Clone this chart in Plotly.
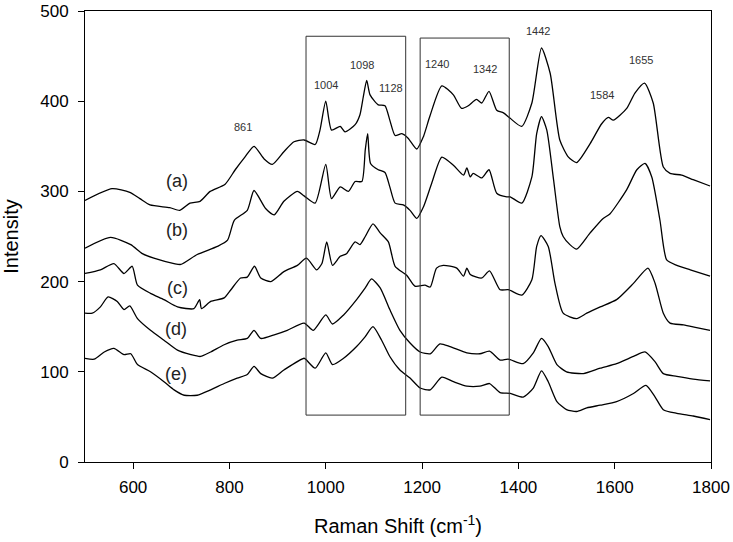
import plotly.graph_objects as go

# ---- data ----
xa = [500, 556, 593, 614, 635, 676, 697, 718, 739, 760, 791, 812, 832, 851, 872, 889, 913, 934, 955,
      978, 988, 1000, 1012, 1030, 1040, 1061, 1071, 1078, 1085, 1092, 1109, 1123, 1133, 1144, 1158, 1171,
      1189, 1203, 1216, 1241, 1265, 1282, 1296, 1313, 1324, 1339, 1355, 1369, 1383, 1407, 1428, 1448,
      1466, 1486, 1504, 1521, 1549, 1573, 1587, 1597, 1625, 1642, 1662, 1680, 1701, 1715, 1739, 1763, 1798]
ya = [290, 303, 299, 292, 285, 282, 279, 287, 289, 300, 308, 324, 338, 350, 336, 330, 344, 355, 357,
      352, 368, 400, 368, 372, 366, 374, 385, 405, 423, 407, 396, 395, 379, 362, 364, 359,
      347, 361, 383, 417, 407, 392, 395, 402, 398, 411, 390, 387, 381, 372, 398, 459,
      431, 357, 338, 332, 353, 375, 382, 379, 392, 409, 420, 398, 327, 320, 318, 313, 306]

xb = [500, 553, 595, 619, 643, 685, 699, 733, 775, 796, 810, 837, 851, 875, 893, 913, 941, 955,
      978, 1000, 1012, 1030, 1047, 1061, 1075, 1082, 1087, 1093, 1109, 1123, 1133, 1144, 1161, 1175,
      1189, 1203, 1220, 1241, 1265, 1286, 1293, 1300, 1306, 1324, 1339, 1355, 1376, 1383, 1407, 1428,
      1438, 1448, 1459, 1473, 1486, 1493, 1507, 1521, 1549, 1576, 1590, 1625, 1646, 1663, 1677, 1694,
      1708, 1729, 1757, 1798]
yb = [237, 249, 241, 231, 226, 220, 219, 230, 239, 246, 268, 279, 301, 281, 274, 289, 300, 295,
      287, 330, 292, 305, 300, 311, 311, 346, 364, 331, 324, 321, 305, 287, 285, 279,
      270, 283, 309, 338, 329, 318, 326, 316, 320, 315, 324, 298, 294, 294, 287, 316,
      364, 383, 368, 313, 261, 250, 241, 236, 254, 270, 275, 302, 324, 331, 316, 268,
      224, 218, 213, 206]

xc = [500, 532, 560, 581, 598, 609, 636, 664, 692, 726, 738, 742, 761, 789, 803, 823, 837, 852, 865,
      886, 913, 941, 960, 981, 992, 1002, 1014, 1030, 1043, 1061, 1071, 1082, 1098, 1113, 1130, 1144,
      1168, 1185, 1206, 1217, 1230, 1244, 1272, 1286, 1293, 1300, 1324, 1340, 1362, 1379, 1407, 1428,
      1438, 1447, 1462, 1476, 1493, 1521, 1542, 1570, 1604, 1639, 1669, 1684, 1701, 1715, 1743, 1770,
      1798]
yc = [209, 213, 220, 209, 217, 196, 187, 180, 172, 170, 180, 170, 178, 182, 191, 204, 205, 217, 204,
      200, 211, 218, 226, 213, 220, 244, 218, 228, 231, 244, 241, 250, 264, 254, 244, 217,
      207, 195, 196, 194, 215, 218, 215, 206, 215, 208, 204, 212, 191, 191, 185, 202,
      239, 251, 239, 198, 165, 159, 165, 172, 180, 198, 215, 198, 165, 154, 152, 149,
      146]

xd = [500, 515, 532, 548, 567, 581, 593, 609, 636, 664, 692, 720, 740, 761, 789, 816, 837, 851, 865,
      893, 920, 955, 974, 1000, 1014, 1037, 1064, 1082, 1095, 1113, 1133, 1154, 1175, 1196, 1217, 1237,
      1258, 1293, 1320, 1340, 1362, 1379, 1410, 1431, 1448, 1462, 1480, 1500, 1535, 1570, 1604, 1639,
      1663, 1684, 1701, 1729, 1763, 1798]
yd = [165, 165, 172, 183, 178, 169, 173, 159, 146, 135, 124, 119, 117, 122, 130, 135, 137, 146, 137,
      141, 146, 154, 146, 163, 153, 163, 180, 193, 203, 193, 169, 146, 132, 122, 120, 131,
      128, 121, 120, 123, 113, 114, 109, 121, 137, 128, 108, 100, 98, 104, 109, 117,
      122, 111, 98, 95, 92, 90]

xe = [500, 519, 540, 560, 581, 595, 609, 636, 664, 685, 706, 733, 761, 789, 816, 837, 851, 865, 889,
      913, 955, 960, 978, 1000, 1014, 1037, 1064, 1082, 1098, 1116, 1133, 1154, 1175, 1196, 1217, 1241,
      1265, 1293, 1320, 1340, 1362, 1383, 1410, 1431, 1448, 1462, 1480, 1500, 1521, 1542, 1570, 1604,
      1639, 1665, 1684, 1701, 1729, 1763, 1798]
ye = [115, 114, 122, 126, 119, 120, 108, 100, 89, 80, 74, 74, 80, 87, 93, 97, 106, 98, 93,
      102, 115, 113, 104, 121, 108, 115, 128, 139, 150, 135, 117, 102, 93, 82, 80, 94,
      89, 84, 84, 87, 77, 76, 72, 82, 101, 89, 67, 58, 56, 60, 63, 67,
      76, 85, 72, 58, 54, 51, 47]

series_x = [xa, xb, xc, xd, xe]
series_y = [ya, yb, yc, yd, ye]

curve_labels = ["(a)", "(b)", "(c)", "(d)", "(e)"]
curve_label_x = [692, 692, 692, 690, 690]
curve_label_y = [311, 257, 193, 148, 98]

peak_labels = ["861", "1004", "1098", "1128", "1240", "1342", "1442", "1584", "1655"]
peak_x = [828, 1000, 1075, 1135, 1232, 1331, 1440, 1574, 1655]
peak_y = [371, 418, 440, 415, 441, 436, 478, 407, 446]

box_x0 = [959, 1196]
box_x1 = [1166, 1381]
box_y0 = [52, 52]
box_y1 = [472, 470]

x_ticks = [600, 800, 1000, 1200, 1400, 1600, 1800]
y_ticks = [0, 100, 200, 300, 400, 500]

FONT = "Liberation Sans, Arial, sans-serif"

fig = go.Figure()
for sx, sy in zip(series_x, series_y):
    fig.add_trace(go.Scatter(x=sx, y=sy, mode="lines",
                             line=dict(color="black", width=1.3, shape="spline", smoothing=0.6),
                             showlegend=False, hoverinfo="skip"))

for x0, x1, y0, y1 in zip(box_x0, box_x1, box_y0, box_y1):
    fig.add_shape(type="rect", x0=x0, x1=x1, y0=y0, y1=y1, xref="x", yref="y",
                  line=dict(color="#333333", width=1))

for t, x, y in zip(curve_labels, curve_label_x, curve_label_y):
    fig.add_annotation(x=x, y=y, text=t, showarrow=False, font=dict(family=FONT, size=18, color="#222"))

for t, x, y in zip(peak_labels, peak_x, peak_y):
    fig.add_annotation(x=x, y=y, text=t, showarrow=False, font=dict(family=FONT, size=11, color="#333"))

fig.update_layout(
    width=733, height=542,
    margin=dict(l=85, r=22, t=11, b=80),
    paper_bgcolor="white", plot_bgcolor="white",
    font=dict(family=FONT, color="black"),
    xaxis=dict(range=[500, 1800], tickvals=x_ticks, showgrid=False, zeroline=False, automargin=False,
               showline=True, mirror=True, linecolor="black", linewidth=1,
               ticks="outside", ticklen=6, tickcolor="black", tickfont=dict(size=17),
               ticklabelstandoff=4, ticklabeloverflow="allow",
               title=dict(text="Raman Shift (cm<sup>-1</sup>)", font=dict(size=20), standoff=22)),
    yaxis=dict(range=[0, 500], tickvals=y_ticks, showgrid=False, zeroline=False, automargin=False,
               showline=True, mirror=True, linecolor="black", linewidth=1,
               ticks="outside", ticklen=6, tickcolor="black", tickfont=dict(size=17),
               ticklabelstandoff=6, ticklabeloverflow="allow",
               title=dict(text="Intensity", font=dict(size=20), standoff=23)),
)

fig.write_html("out.html", config={"displayModeBar": False},
               post_script="document.body.style.margin='0px';")
